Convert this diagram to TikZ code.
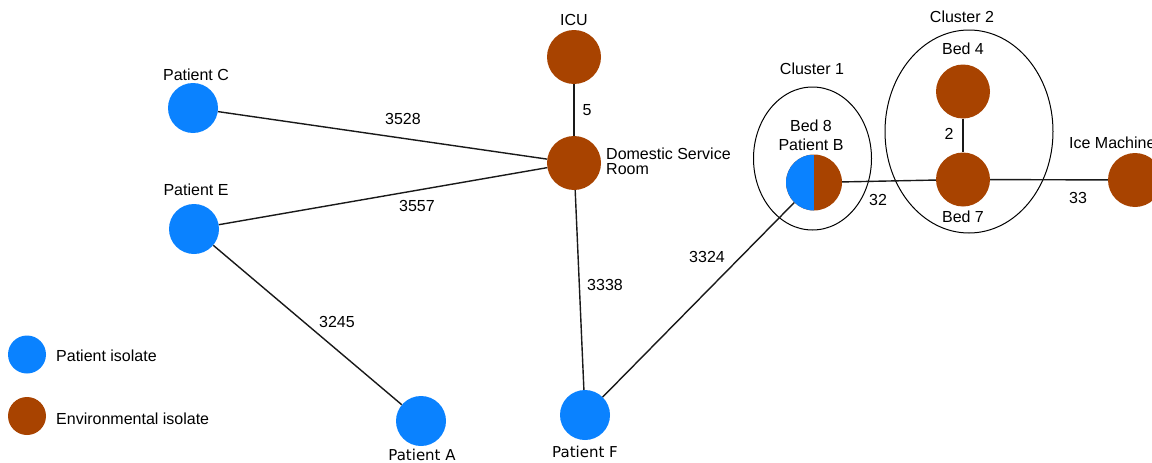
\documentclass[tikz,border=0pt]{standalone}
\usepackage{fontspec}
\setmainfont{Liberation Sans}
\newfontfamily\verd{DejaVu Sans}
\usetikzlibrary{shapes.geometric}
\definecolor{patblue}{RGB}{10,130,255}
\definecolor{envbrown}{RGB}{168,67,0}
\begin{document}
\begin{tikzpicture}[x=1pt,y=-1pt,
  iso/.style={circle, minimum size=54pt, inner sep=0pt},
  pat/.style={iso, fill=patblue, minimum size=50pt},
  env/.style={iso, fill=envbrown},
  lbl/.style={font=\fontsize{16}{19}\selectfont, inner sep=0pt},
  vlbl/.style={font=\verd\fontsize{15}{18}\selectfont, inner sep=0pt},
  link/.style={line width=1.4pt, black!90},
  clus/.style={ellipse, draw, line width=1pt, inner sep=0pt}]
\useasboundingbox (0,0) rectangle (1152,463);
\fill[white] (0,0) rectangle (1152,463);

% cluster outlines
\node[clus, minimum width=118pt, minimum height=143pt] (cl1) at (812.5,158.5) {};
\node[clus, minimum width=168pt, minimum height=203pt] (cl2) at (969,131.5) {};
\node[lbl] (cl1t) at (812,69) {Cluster 1};
\node[lbl] (cl2t) at (962,17) {Cluster 2};

% isolates
\node[env] (icu) at (574,57) {};
\node[env] (dsr) at (574,163) {};
\node[pat] (pc) at (193,108) {};
\node[pat] (pe) at (194,229) {};
\node[pat] (pa) at (421,421) {};
\node[pat] (pf) at (585,415) {};
\node[iso, fill=envbrown, minimum size=56pt,
  path picture={\fill[patblue] (path picture bounding box.south west) rectangle (path picture bounding box.north);}] (b8) at (814,182.5) {};
\node[env] (b4) at (963,91.5) {};
\node[env] (b7) at (963,179.5) {};
\node[env] (ice) at (1135,180) {};

% node labels
\node[lbl] (icut) at (574,20) {ICU};
\node[lbl, anchor=west, align=left, font=\fontsize{16}{15}\selectfont] (dsrt) at (606,161) {Domestic Service\\Room};
\node[lbl] (pct) at (196,75) {Patient C};
\node[lbl] (pet) at (196,190) {Patient E};
\node[vlbl] (pat) at (422,455) {Patient A};
\node[vlbl] (pft) at (585,452) {Patient F};
\node[lbl, align=center] (b8t) at (811,135.5) {Bed 8\\Patient B};
\node[lbl] (b4t) at (963,49) {Bed 4};
\node[lbl] (b7t) at (963,217) {Bed 7};
\node[lbl, anchor=west] (icet) at (1069,143) {Ice Machine};

% connectors
\draw[link] (icu) -- (dsr);
\draw[link] (pc) -- (dsr);
\draw[link] (pe) -- (dsr);
\draw[link] (pe) -- (pa);
\draw[link] (dsr) -- (pf);
\draw[link] (pf) -- (b8);
\draw[link] (b8) -- (b7);
\draw[link] (b4) -- (b7);
\draw[link] (b7) -- (ice);

% distances
\node[lbl] (d5) at (587,110) {5};
\node[lbl] (d3528) at (403,119) {3528};
\node[lbl] (d3557) at (417,206) {3557};
\node[lbl] (d3245) at (337,322) {3245};
\node[lbl] (d3338) at (605,285) {3338};
\node[lbl] (d3324) at (707,257) {3324};
\node[lbl] (d32) at (878,200) {32};
\node[lbl] (d2) at (949,134) {2};
\node[lbl] (d33) at (1078,198) {33};

% legend
\node[iso, fill=patblue, minimum size=38pt] (lgp) at (27,354.5) {};
\node[iso, fill=envbrown, minimum size=38pt] (lge) at (27,416) {};
\node[lbl, anchor=west] (lgpt) at (56,356) {Patient isolate};
\node[lbl, anchor=west] (lget) at (56,419) {Environmental isolate};
\end{tikzpicture}
\end{document}
